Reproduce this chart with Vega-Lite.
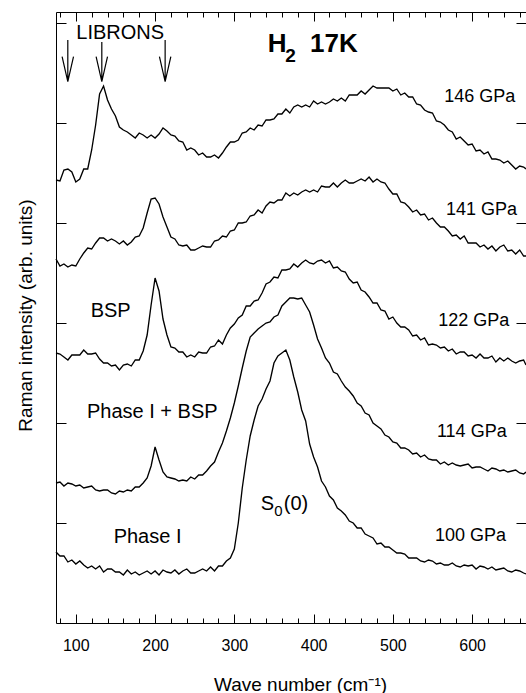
{
  "$schema": "https://vega.github.io/schema/vega-lite/v6.json",
  "autosize": "none",
  "padding": {"left": 56, "top": 12, "right": 0, "bottom": 70},
  "width": 470,
  "height": 611,
  "background": "white",
  "config": {"view": {"stroke": null}, "axis": {"grid": false}},
  "datasets": {
    "spectra": [
      {"x":75,"a":0.71,"b":1.40,"c":2.70,"d":3.64,"e":4.43},
      {"x":80,"a":0.67,"b":1.41,"c":2.69,"d":3.57,"e":4.42},
      {"x":85,"a":0.67,"b":1.37,"c":2.66,"d":3.59,"e":4.53},
      {"x":90,"a":0.61,"b":1.40,"c":2.63,"d":3.56,"e":4.54},
      {"x":95,"a":0.63,"b":1.39,"c":2.68,"d":3.58,"e":4.51},
      {"x":100,"a":0.59,"b":1.37,"c":2.68,"d":3.57,"e":4.41},
      {"x":105,"a":0.62,"b":1.38,"c":2.68,"d":3.64,"e":4.44},
      {"x":110,"a":0.58,"b":1.35,"c":2.73,"d":3.70,"e":4.54},
      {"x":115,"a":0.55,"b":1.36,"c":2.69,"d":3.75,"e":4.54},
      {"x":120,"a":0.57,"b":1.37,"c":2.69,"d":3.74,"e":4.73},
      {"x":125,"a":0.54,"b":1.33,"c":2.70,"d":3.80,"e":4.98},
      {"x":130,"a":0.57,"b":1.32,"c":2.64,"d":3.85,"e":5.29},
      {"x":135,"a":0.51,"b":1.33,"c":2.60,"d":3.85,"e":5.37},
      {"x":140,"a":0.54,"b":1.33,"c":2.60,"d":3.82,"e":5.23},
      {"x":145,"a":0.54,"b":1.30,"c":2.57,"d":3.84,"e":5.14},
      {"x":150,"a":0.51,"b":1.29,"c":2.58,"d":3.82,"e":5.07},
      {"x":155,"a":0.51,"b":1.32,"c":2.53,"d":3.79,"e":4.96},
      {"x":160,"a":0.48,"b":1.31,"c":2.58,"d":3.82,"e":4.93},
      {"x":165,"a":0.53,"b":1.33,"c":2.59,"d":3.78,"e":4.91},
      {"x":170,"a":0.49,"b":1.32,"c":2.57,"d":3.81,"e":4.88},
      {"x":175,"a":0.51,"b":1.36,"c":2.63,"d":3.86,"e":4.85},
      {"x":180,"a":0.48,"b":1.36,"c":2.63,"d":3.87,"e":4.90},
      {"x":185,"a":0.50,"b":1.40,"c":2.72,"d":3.95,"e":4.88},
      {"x":190,"a":0.52,"b":1.45,"c":2.88,"d":4.10,"e":4.85},
      {"x":195,"a":0.49,"b":1.57,"c":3.18,"d":4.24,"e":4.88},
      {"x":200,"a":0.52,"b":1.76,"c":3.45,"d":4.25,"e":4.85},
      {"x":205,"a":0.48,"b":1.63,"c":3.32,"d":4.19,"e":4.89},
      {"x":210,"a":0.53,"b":1.51,"c":3.04,"d":4.06,"e":4.95},
      {"x":215,"a":0.51,"b":1.46,"c":2.88,"d":3.96,"e":4.92},
      {"x":220,"a":0.50,"b":1.45,"c":2.76,"d":3.86,"e":4.88},
      {"x":225,"a":0.53,"b":1.44,"c":2.75,"d":3.84,"e":4.87},
      {"x":230,"a":0.49,"b":1.42,"c":2.71,"d":3.78,"e":4.82},
      {"x":235,"a":0.52,"b":1.43,"c":2.71,"d":3.77,"e":4.81},
      {"x":240,"a":0.54,"b":1.42,"c":2.66,"d":3.78,"e":4.73},
      {"x":245,"a":0.50,"b":1.46,"c":2.68,"d":3.73,"e":4.75},
      {"x":250,"a":0.50,"b":1.44,"c":2.66,"d":3.73,"e":4.73},
      {"x":255,"a":0.52,"b":1.48,"c":2.71,"d":3.75,"e":4.68},
      {"x":260,"a":0.54,"b":1.48,"c":2.70,"d":3.77,"e":4.70},
      {"x":265,"a":0.52,"b":1.52,"c":2.70,"d":3.76,"e":4.66},
      {"x":270,"a":0.56,"b":1.57,"c":2.76,"d":3.76,"e":4.66},
      {"x":275,"a":0.52,"b":1.61,"c":2.77,"d":3.82,"e":4.68},
      {"x":280,"a":0.57,"b":1.71,"c":2.83,"d":3.83,"e":4.65},
      {"x":285,"a":0.57,"b":1.80,"c":2.79,"d":3.87,"e":4.70},
      {"x":290,"a":0.62,"b":1.92,"c":2.88,"d":3.86,"e":4.76},
      {"x":295,"a":0.65,"b":2.05,"c":2.95,"d":3.92,"e":4.81},
      {"x":300,"a":0.74,"b":2.20,"c":2.99,"d":3.93,"e":4.81},
      {"x":305,"a":1.00,"b":2.37,"c":3.05,"d":4.00,"e":4.83},
      {"x":310,"a":1.35,"b":2.55,"c":3.08,"d":4.00,"e":4.90},
      {"x":315,"a":1.63,"b":2.72,"c":3.17,"d":4.01,"e":4.91},
      {"x":320,"a":1.87,"b":2.86,"c":3.17,"d":4.07,"e":4.95},
      {"x":325,"a":2.03,"b":2.90,"c":3.22,"d":4.08,"e":4.93},
      {"x":330,"a":2.17,"b":2.94,"c":3.23,"d":4.13,"e":4.98},
      {"x":335,"a":2.24,"b":2.97,"c":3.30,"d":4.10,"e":4.97},
      {"x":340,"a":2.34,"b":3.00,"c":3.39,"d":4.17,"e":5.03},
      {"x":345,"a":2.42,"b":3.01,"c":3.41,"d":4.21,"e":5.03},
      {"x":350,"a":2.60,"b":3.06,"c":3.46,"d":4.20,"e":5.04},
      {"x":355,"a":2.67,"b":3.08,"c":3.45,"d":4.23,"e":5.09},
      {"x":360,"a":2.70,"b":3.17,"c":3.53,"d":4.23,"e":5.09},
      {"x":365,"a":2.73,"b":3.21,"c":3.53,"d":4.30,"e":5.14},
      {"x":370,"a":2.63,"b":3.25,"c":3.54,"d":4.27,"e":5.10},
      {"x":375,"a":2.46,"b":3.25,"c":3.59,"d":4.30,"e":5.16},
      {"x":380,"a":2.31,"b":3.24,"c":3.56,"d":4.28,"e":5.18},
      {"x":385,"a":2.13,"b":3.25,"c":3.60,"d":4.31,"e":5.16},
      {"x":390,"a":2.02,"b":3.18,"c":3.63,"d":4.33,"e":5.18},
      {"x":395,"a":1.79,"b":3.11,"c":3.60,"d":4.31,"e":5.16},
      {"x":400,"a":1.66,"b":2.98,"c":3.59,"d":4.33,"e":5.22},
      {"x":405,"a":1.56,"b":2.84,"c":3.62,"d":4.31,"e":5.19},
      {"x":410,"a":1.42,"b":2.75,"c":3.63,"d":4.37,"e":5.21},
      {"x":415,"a":1.36,"b":2.65,"c":3.60,"d":4.36,"e":5.19},
      {"x":420,"a":1.27,"b":2.60,"c":3.62,"d":4.36,"e":5.21},
      {"x":425,"a":1.23,"b":2.51,"c":3.55,"d":4.40,"e":5.24},
      {"x":430,"a":1.15,"b":2.49,"c":3.56,"d":4.36,"e":5.22},
      {"x":435,"a":1.12,"b":2.42,"c":3.52,"d":4.40,"e":5.25},
      {"x":440,"a":1.08,"b":2.36,"c":3.51,"d":4.43,"e":5.22},
      {"x":445,"a":1.02,"b":2.32,"c":3.44,"d":4.40,"e":5.28},
      {"x":450,"a":1.00,"b":2.27,"c":3.40,"d":4.40,"e":5.28},
      {"x":455,"a":0.95,"b":2.20,"c":3.41,"d":4.42,"e":5.28},
      {"x":460,"a":0.95,"b":2.17,"c":3.33,"d":4.44,"e":5.32},
      {"x":465,"a":0.89,"b":2.10,"c":3.31,"d":4.42,"e":5.29},
      {"x":470,"a":0.87,"b":2.08,"c":3.26,"d":4.46,"e":5.33},
      {"x":475,"a":0.85,"b":2.00,"c":3.20,"d":4.41,"e":5.37},
      {"x":480,"a":0.79,"b":1.97,"c":3.20,"d":4.44,"e":5.35},
      {"x":485,"a":0.80,"b":1.94,"c":3.13,"d":4.41,"e":5.35},
      {"x":490,"a":0.76,"b":1.88,"c":3.12,"d":4.40,"e":5.35},
      {"x":495,"a":0.76,"b":1.86,"c":3.04,"d":4.34,"e":5.35},
      {"x":500,"a":0.73,"b":1.81,"c":3.06,"d":4.29,"e":5.32},
      {"x":505,"a":0.70,"b":1.80,"c":3.00,"d":4.29,"e":5.34},
      {"x":510,"a":0.70,"b":1.75,"c":2.96,"d":4.21,"e":5.28},
      {"x":515,"a":0.69,"b":1.75,"c":2.96,"d":4.20,"e":5.30},
      {"x":520,"a":0.65,"b":1.73,"c":2.93,"d":4.16,"e":5.26},
      {"x":525,"a":0.65,"b":1.69,"c":2.87,"d":4.11,"e":5.26},
      {"x":530,"a":0.65,"b":1.70,"c":2.88,"d":4.13,"e":5.19},
      {"x":535,"a":0.62,"b":1.66,"c":2.83,"d":4.08,"e":5.18},
      {"x":540,"a":0.61,"b":1.68,"c":2.85,"d":4.09,"e":5.13},
      {"x":545,"a":0.63,"b":1.64,"c":2.78,"d":4.03,"e":5.11},
      {"x":550,"a":0.62,"b":1.63,"c":2.79,"d":4.05,"e":5.10},
      {"x":555,"a":0.59,"b":1.63,"c":2.78,"d":4.00,"e":5.02},
      {"x":560,"a":0.60,"b":1.59,"c":2.75,"d":3.96,"e":5.01},
      {"x":565,"a":0.58,"b":1.61,"c":2.76,"d":3.96,"e":4.98},
      {"x":570,"a":0.58,"b":1.58,"c":2.72,"d":3.92,"e":4.93},
      {"x":575,"a":0.60,"b":1.60,"c":2.74,"d":3.87,"e":4.91},
      {"x":580,"a":0.57,"b":1.58,"c":2.69,"d":3.88,"e":4.84},
      {"x":585,"a":0.56,"b":1.57,"c":2.71,"d":3.84,"e":4.86},
      {"x":590,"a":0.58,"b":1.58,"c":2.71,"d":3.87,"e":4.82},
      {"x":595,"a":0.57,"b":1.59,"c":2.67,"d":3.80,"e":4.78},
      {"x":600,"a":0.58,"b":1.55,"c":2.68,"d":3.80,"e":4.79},
      {"x":605,"a":0.54,"b":1.56,"c":2.65,"d":3.80,"e":4.72},
      {"x":610,"a":0.57,"b":1.56,"c":2.69,"d":3.76,"e":4.73},
      {"x":615,"a":0.56,"b":1.54,"c":2.65,"d":3.78,"e":4.69},
      {"x":620,"a":0.54,"b":1.52,"c":2.65,"d":3.74,"e":4.71},
      {"x":625,"a":0.56,"b":1.55,"c":2.67,"d":3.77,"e":4.64},
      {"x":630,"a":0.53,"b":1.54,"c":2.61,"d":3.72,"e":4.64},
      {"x":635,"a":0.54,"b":1.52,"c":2.65,"d":3.76,"e":4.63},
      {"x":640,"a":0.55,"b":1.53,"c":2.62,"d":3.78,"e":4.60},
      {"x":645,"a":0.52,"b":1.51,"c":2.65,"d":3.72,"e":4.62},
      {"x":650,"a":0.51,"b":1.52,"c":2.62,"d":3.73,"e":4.58},
      {"x":655,"a":0.53,"b":1.53,"c":2.60,"d":3.69,"e":4.54},
      {"x":660,"a":0.52,"b":1.50,"c":2.62,"d":3.73,"e":4.57},
      {"x":665,"a":0.50,"b":1.49,"c":2.63,"d":3.67,"e":4.56},
      {"x":668,"a":0.49,"b":1.51,"c":2.58,"d":3.67,"e":4.54}
    ],
    "pressures": [
      {"t":"146 GPa","x":609.7,"y":5.21},
      {"t":"141 GPa","x":612,"y":4.08},
      {"t":"122 GPa","x":602,"y":2.97},
      {"t":"114 GPa","x":599.6,"y":1.863},
      {"t":"100 GPa","x":598,"y":0.823}
    ],
    "phases": [
      {"t":"BSP","x":144,"y":3.057},
      {"t":"Phase I + BSP","x":196.5,"y":2.047},
      {"t":"Phase I","x":190.5,"y":0.797},
      {"t":"LIBRONS","x":156,"y":5.84}
    ],
    "arrows": [
      {"id":1,"o":1,"x":89.9,"y":5.83},
      {"id":1,"o":2,"x":89.9,"y":5.413},
      {"id":1,"o":3,"x":82.7,"y":5.663},
      {"id":1,"o":4,"x":89.9,"y":5.413},
      {"id":1,"o":5,"x":97.1,"y":5.663},
      {"id":2,"o":1,"x":132.8,"y":5.81},
      {"id":2,"o":2,"x":132.8,"y":5.413},
      {"id":2,"o":3,"x":125.6,"y":5.663},
      {"id":2,"o":4,"x":132.8,"y":5.413},
      {"id":2,"o":5,"x":140.0,"y":5.663},
      {"id":3,"o":1,"x":212.7,"y":5.83},
      {"id":3,"o":2,"x":212.7,"y":5.413},
      {"id":3,"o":3,"x":205.5,"y":5.663},
      {"id":3,"o":4,"x":212.7,"y":5.413},
      {"id":3,"o":5,"x":219.9,"y":5.663}
    ]
  },
  "resolve": {"scale": {"x": "shared", "y": "shared"}, "axis": {"x": "independent", "y": "independent"}},
  "layer": [
    {
      "data": {"name": "spectra"},
      "transform": [{"fold": ["a", "b", "c", "d", "e"], "as": ["k", "v"]}],
      "mark": {"type": "line", "color": "black", "strokeWidth": 1.35, "interpolate": "linear"},
      "encoding": {
        "x": {"field": "x", "type": "quantitative", "scale": {"domain": [75, 668], "nice": false, "zero": false},
          "axis": {"orient": "bottom", "values": [100, 200, 300, 400, 500, 600], "tickSize": -9, "tickColor": "black", "tickWidth": 1,
            "domain": true, "domainColor": "black", "domainWidth": 1, "labelFont": "Liberation Sans", "labelFontSize": 16,
            "labelColor": "black", "labelPadding": 23, "labelFlush": false, "title": "Wave number (cm⁻¹)", "titleFont": "Liberation Sans",
            "titleFontSize": 19, "titleFontWeight": "normal", "titleColor": "black", "titleX": 244, "titleY": 67,
            "titleBaseline": "alphabetic", "titleAlign": "center", "titleAnchor": "middle", "titleLimit": 400, "grid": false}},
        "y": {"field": "v", "type": "quantitative", "scale": {"domain": [0, 6.11], "nice": false, "zero": false},
          "axis": {"orient": "left", "values": [1, 2, 3, 4, 5, 6], "tickSize": -10, "tickColor": "black", "labels": false,
            "domain": true, "domainColor": "black", "domainWidth": 1, "title": "Raman intensity (arb. units)",
            "titleFont": "Liberation Sans", "titleFontSize": 19, "titleFontWeight": "normal", "titleColor": "black",
            "titleX": -24.5, "titleY": 303, "titleAngle": 270, "titleBaseline": "alphabetic", "titleAlign": "center", "grid": false}},
        "detail": {"field": "k"}
      }
    },
    {
      "data": {"name": "pressures"},
      "mark": {"type": "text", "font": "Liberation Sans", "fontSize": 18, "color": "black", "align": "center", "baseline": "alphabetic"},
      "encoding": {
        "x": {"field": "x", "type": "quantitative", "scale": {"domain": [75, 668], "nice": false, "zero": false},
          "axis": {"orient": "bottom", "values": [80, 120, 140, 160, 180, 220, 240, 260, 280, 320, 340, 360, 380, 420, 440, 460, 480, 520, 540, 560, 580, 620, 640, 660],
            "tickSize": -5, "tickColor": "black", "labels": false, "domain": false, "title": null, "grid": false}},
        "y": {"field": "y", "type": "quantitative", "scale": {"domain": [0, 6.11], "nice": false, "zero": false},
          "axis": {"orient": "right", "values": [1, 2, 3, 4, 5, 6], "tickSize": -10, "tickColor": "black", "labels": false,
            "domain": false, "title": null, "grid": false}},
        "text": {"field": "t"}
      }
    },
    {
      "data": {"name": "phases"},
      "mark": {"type": "text", "font": "Liberation Sans", "fontSize": 20, "color": "black", "align": "center", "baseline": "alphabetic"},
      "encoding": {
        "x": {"field": "x", "type": "quantitative", "scale": {"domain": [75, 668], "nice": false, "zero": false},
          "axis": {"orient": "top", "values": [100, 200, 300, 400, 500, 600], "tickSize": -9, "tickColor": "black", "labels": false,
            "domain": true, "domainColor": "black", "domainWidth": 1, "title": null, "grid": false}},
        "y": {"field": "y", "type": "quantitative", "scale": {"domain": [0, 6.11], "nice": false, "zero": false}, "axis": null},
        "text": {"field": "t"}
      }
    },
    {
      "data": {"name": "arrows"},
      "mark": {"type": "line", "color": "black", "strokeWidth": 1.2},
      "encoding": {
        "x": {"field": "x", "type": "quantitative", "scale": {"domain": [75, 668], "nice": false, "zero": false},
          "axis": {"orient": "top", "values": [80, 120, 140, 160, 180, 220, 240, 260, 280, 320, 340, 360, 380, 420, 440, 460, 480, 520, 540, 560, 580, 620, 640, 660],
            "tickSize": -5, "tickColor": "black", "labels": false, "domain": false, "title": null, "grid": false}},
        "y": {"field": "y", "type": "quantitative", "scale": {"domain": [0, 6.11], "nice": false, "zero": false}, "axis": null},
        "detail": {"field": "id"},
        "order": {"field": "o"}
      }
    },
    {
      "data": {"values": [{"t": "H", "x": 342.2, "y": 5.713}]},
      "mark": {"type": "text", "font": "Liberation Sans", "fontSize": 26, "fontWeight": "bold", "color": "black", "align": "left", "baseline": "alphabetic"},
      "encoding": {
        "x": {"field": "x", "type": "quantitative", "scale": {"domain": [75, 668], "nice": false, "zero": false}, "axis": null},
        "y": {"field": "y", "type": "quantitative", "scale": {"domain": [0, 6.11], "nice": false, "zero": false}, "axis": null},
        "text": {"field": "t"}
      }
    },
    {
      "data": {"values": [{"t": "17K", "x": 455.8, "y": 5.713}]},
      "mark": {"type": "text", "font": "Liberation Sans", "fontSize": 26, "fontWeight": "bold", "color": "black", "align": "right", "baseline": "alphabetic"},
      "encoding": {
        "x": {"field": "x", "type": "quantitative", "scale": {"domain": [75, 668], "nice": false, "zero": false}, "axis": null},
        "y": {"field": "y", "type": "quantitative", "scale": {"domain": [0, 6.11], "nice": false, "zero": false}, "axis": null},
        "text": {"field": "t"}
      }
    },
    {
      "data": {"values": [{"t": "2", "x": 364.3, "y": 5.613}]},
      "mark": {"type": "text", "font": "Liberation Sans", "fontSize": 19, "fontWeight": "bold", "color": "black", "align": "left", "baseline": "alphabetic"},
      "encoding": {
        "x": {"field": "x", "type": "quantitative", "scale": {"domain": [75, 668], "nice": false, "zero": false}, "axis": null},
        "y": {"field": "y", "type": "quantitative", "scale": {"domain": [0, 6.11], "nice": false, "zero": false}, "axis": null},
        "text": {"field": "t"}
      }
    },
    {
      "data": {"values": [{"t": "S", "x": 333.4, "y": 1.13}, {"t": "(0)", "x": 362.4, "y": 1.13}]},
      "mark": {"type": "text", "font": "Liberation Sans", "fontSize": 20, "color": "black", "align": "left", "baseline": "alphabetic"},
      "encoding": {
        "x": {"field": "x", "type": "quantitative", "scale": {"domain": [75, 668], "nice": false, "zero": false}, "axis": null},
        "y": {"field": "y", "type": "quantitative", "scale": {"domain": [0, 6.11], "nice": false, "zero": false}, "axis": null},
        "text": {"field": "t"}
      }
    },
    {
      "data": {"values": [{"t": "0", "x": 350.4, "y": 1.07}]},
      "mark": {"type": "text", "font": "Liberation Sans", "fontSize": 15, "color": "black", "align": "left", "baseline": "alphabetic"},
      "encoding": {
        "x": {"field": "x", "type": "quantitative", "scale": {"domain": [75, 668], "nice": false, "zero": false}, "axis": null},
        "y": {"field": "y", "type": "quantitative", "scale": {"domain": [0, 6.11], "nice": false, "zero": false}, "axis": null},
        "text": {"field": "t"}
      }
    }
  ]
}
